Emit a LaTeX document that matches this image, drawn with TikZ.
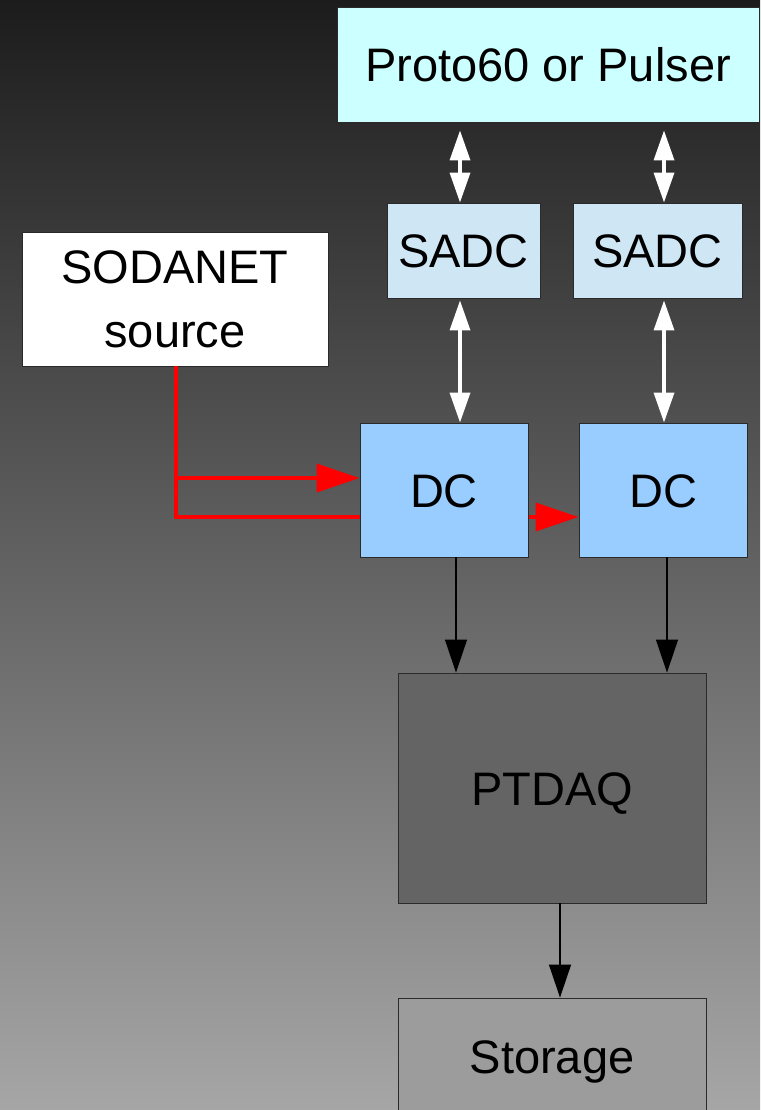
\documentclass[tikz,border=0pt]{standalone}
\usepackage{fontspec}
\setmainfont{Liberation Sans}
\usetikzlibrary{arrows.meta}
\pgfdeclarelayer{background}
\pgfsetlayers{background,main}

\definecolor{bgtop}{HTML}{1C1C1C}
\definecolor{bgbottom}{HTML}{A6A6A6}
\definecolor{boxline}{HTML}{2A2A2A}
\definecolor{protofill}{HTML}{CCFFFF}
\definecolor{sadcfill}{HTML}{CFE7F5}
\definecolor{dcfill}{HTML}{99CCFF}
\definecolor{daqfill}{HTML}{646464}
\definecolor{storefill}{HTML}{9C9C9C}
\definecolor{syncred}{HTML}{FF0000}

\tikzset{
  unit/.style={rectangle, draw=boxline, line width=0.9pt, inner sep=0pt,
    align=center, font=\fontsize{47}{64}\selectfont},
  oneline/.style={unit, text height=34pt, text depth=0pt},
  busline/.style={white, line width=3.5pt,
    {Triangle[width=20pt,length=30pt]}-{Triangle[width=20pt,length=30pt]}},
  syncline/.style={syncred, line width=4pt, -{Triangle[width=28pt,length=43pt]}},
  dataline/.style={black, line width=1.3pt, -{Triangle[width=22pt,length=33pt]}}
}

\begin{document}
\begin{tikzpicture}[x=1pt,y=-1pt]
  \useasboundingbox (0,0) rectangle (760,1110);
  \clip (0,0) rectangle (760,1110);

  % backdrop
  \begin{pgfonlayer}{background}
    \shade[top color=bgtop, bottom color=bgbottom] (0,0) rectangle (760,1110);
  \end{pgfonlayer}

  % units
  \node[oneline, fill=protofill, minimum width=422pt, minimum height=115pt] (proto) at (548,64.5) {Proto60 or Pulser};
  \node[oneline, fill=sadcfill, minimum width=153pt, minimum height=95pt] (sadc1) at (463.5,250.5) {SADC};
  \node[oneline, fill=sadcfill, minimum width=169pt, minimum height=95pt] (sadc2) at (657.5,250.5) {SADC};
  \node[unit, fill=white, minimum width=306pt, minimum height=134pt] (soda) at (175,299) {SODANET\\source};
  \node[oneline, fill=dcfill, minimum width=168pt, minimum height=134pt] (dc1) at (444,490) {DC};
  \node[oneline, fill=dcfill, minimum width=168pt, minimum height=134pt] (dc2) at (663,490) {DC};
  \node[oneline, fill=daqfill, minimum width=308pt, minimum height=230pt] (daq) at (552,788) {PTDAQ};
  \node[oneline, fill=storefill, minimum width=308pt, minimum height=116pt] (store) at (552,1056) {Storage};

  % guide positions for the connectors
  \coordinate (u1) at (460,0);
  \coordinate (u2) at (664,0);
  \coordinate (rx) at (176,0);
  \coordinate (ry1) at (0,478);
  \coordinate (ry2) at (0,517);
  \coordinate (b1) at (456,0);
  \coordinate (b2) at (667,0);
  \coordinate (b3) at (560,0);

  % bidirectional links
  \draw[busline, shorten <=8pt] (proto.south -| u1) -- (sadc1.north -| u1);
  \draw[busline, shorten <=8pt] (proto.south -| u2) -- (sadc2.north -| u2);
  \draw[busline, shorten <=2pt] (sadc1.south -| u1) -- (dc1.north -| u1);
  \draw[busline, shorten <=2pt] (sadc2.south -| u2) -- (dc2.north -| u2);

  % sync distribution
  \draw[syncline] (soda.south -| rx) |- (dc1.west |- ry1);
  \begin{pgfonlayer}{background}
    \draw[syncline] (soda.south -| rx) |- (dc2.west |- ry2);
  \end{pgfonlayer}

  % data flow
  \draw[dataline] (dc1.south -| b1) -- (daq.north -| b1);
  \draw[dataline] (dc2.south -| b2) -- (daq.north -| b2);
  \draw[dataline] (daq.south -| b3) -- (store.north -| b3);
\end{tikzpicture}
\end{document}
